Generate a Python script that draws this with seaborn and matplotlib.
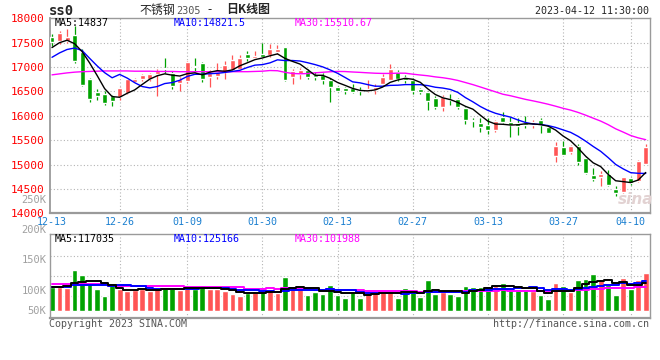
import matplotlib
matplotlib.use("Agg")
import matplotlib.pyplot as plt
import numpy as np
import pandas as pd
import seaborn as sns

# daily candles, ss0 (stainless steel 2305), 2022-12-13 .. 2023-04-12
opens = [17620, 17530, 17530, 17650, 17300, 16760, 16480, 16450, 16410, 16380,
         16465, 16700, 16745, 16760, 16850, 16975, 16885, 16675, 16710, 17010,
         17090, 16795, 16810, 16900, 16945, 16965, 17260, 17185, 17260, 17240,
         17310, 17410, 16795, 16865, 16945, 16840, 16830, 16725, 16590, 16570,
         16570, 16535, 16515, 16535, 16660, 16740, 16900, 16795, 16740, 16555,
         16485, 16375, 16180, 16350, 16350, 16170, 15920, 15850, 15815, 15715,
         15980, 15878, 15857, 15845, 15810, 15912, 15776, 15184, 15368, 15266,
         15388, 15130, 14790, 14735, 14810, 14497, 14430, 14715, 14654, 15014]
highs = [17680, 17740, 17790, 17850, 17370, 16780, 16540, 16500, 16430, 16600,
         16780, 16770, 16850, 16870, 16960, 17180, 16920, 16800, 17130, 17180,
         17100, 16930, 17090, 17115, 17240, 17240, 17320, 17320, 17500, 17465,
         17445, 17420, 16965, 16985, 16965, 16895, 16875, 16775, 16620, 16600,
         16650, 16600, 16740, 16650, 16855, 17070, 16945, 16840, 16775, 16570,
         16500, 16400, 16420, 16445, 16375, 16190, 15965, 15965, 15950, 15920,
         16080, 15980, 15945, 15990, 15912, 15945, 15810, 15456, 15490, 15402,
         15415, 15164, 14926, 14871, 14892, 14565, 14749, 14749, 15090, 15415]
lows = [17440, 17480, 17500, 17090, 16610, 16290, 16330, 16220, 16210, 16330,
        16450, 16680, 16720, 16720, 16410, 16880, 16540, 16500, 16670, 16890,
        16700, 16590, 16760, 16760, 16930, 16950, 17120, 17170, 17200, 17205,
        17275, 16720, 16660, 16760, 16760, 16725, 16660, 16280, 16490, 16445,
        16465, 16420, 16485, 16445, 16640, 16740, 16720, 16670, 16450, 16450,
        16125, 16145, 16100, 16225, 16145, 15835, 15760, 15665, 15620, 15665,
        15845, 15572, 15605, 15740, 15740, 15640, 15640, 15062, 15190, 15218,
        14994, 14810, 14654, 14565, 14565, 14361, 14409, 14586, 14633, 15014]
closes = [17510, 17690, 17620, 17130, 16640, 16350, 16400, 16270, 16310, 16570,
          16760, 16745, 16830, 16850, 16920, 16960, 16605, 16745, 17095, 17000,
          16760, 16875, 16900, 17035, 17135, 17185, 17185, 17220, 17205, 17360,
          17380, 16725, 16910, 16930, 16795, 16795, 16725, 16600, 16500, 16500,
          16485, 16515, 16555, 16600, 16795, 16965, 16760, 16725, 16500, 16485,
          16295, 16180, 16385, 16315, 16190, 15905, 15885, 15760, 15710, 15895,
          15878, 15810, 15790, 15810, 15878, 15810, 15653, 15388, 15198, 15388,
          15062, 14824, 14708, 14810, 14586, 14409, 14735, 14613, 15070, 15360]
# volume, thousands of lots
volumes = [99, 99, 95, 171, 150, 111, 92, 63, 117, 90,
           84, 88, 90, 84, 97, 99, 97, 88, 104, 92,
           109, 92, 90, 84, 70, 63, 74, 84, 84, 84,
           74, 143, 100, 92, 67, 81, 71, 109, 67, 56,
           78, 56, 78, 78, 78, 78, 56, 97, 84, 60,
           130, 70, 78, 70, 64, 104, 100, 100, 104, 104,
           117, 90, 90, 90, 84, 67, 50, 117, 104, 81,
           130, 134, 155, 130, 109, 67, 138, 90, 130, 160]

# moving average values before enough days exist in the window
ma5_head = [17400, 17500, 17550, 17480]
ma10_head = [17200, 17290, 17360, 17390, 17340, 17180, 17025, 16885, 16780]
ma30_head = [16840, 16860, 16880, 16895, 16905, 16910, 16915, 16920, 16920, 16920,
             16920, 16915, 16915, 16915, 16910, 16910, 16910, 16905, 16905, 16905,
             16905, 16905, 16905, 16905, 16905, 16905, 16905, 16910, 16915]
vma5_head = [100, 102, 104, 116]
vma10_head = [99, 99, 101, 108, 108, 108, 108, 108, 106]
vma30_head = [111, 111, 111, 111, 111, 111, 111, 111, 104, 104,
              104, 104, 104, 104, 104, 104, 104, 104, 99, 99,
              99, 99, 99, 99, 99, 99, 93, 93, 93]

tick_pos = [0, 9, 18, 28, 38, 48, 58, 68, 77]
tick_labels = ['12-13', '12-26', '01-09', '01-30', '02-13', '02-27', '03-13', '03-27', '04-10']
price_ticks = [14000, 14500, 15000, 15500, 16000, 16500, 17000, 17500, 18000]
vol_labels = ['250K', '200K', '150K', '100K', '50K']

RED = '#ff5555'
GREEN = '#00a200'
GRID = '#b4b4b4'
EDGE = '#9a9a9a'


def moving_avg(values, n, head):
    s = pd.Series(values, dtype=float).rolling(n).mean()
    s.iloc[:n - 1] = head
    return s


sns.set_style("white")
plt.rcParams['font.family'] = ['DejaVu Sans Mono', 'Noto Sans CJK SC']

W, H = 660, 360


def px(x, y):
    return x / W, 1 - y / H


fig = plt.figure(figsize=(6.6, 3.6), dpi=100)
ax = fig.add_axes([50.5 / W, (H - 213.3) / H, 599 / W, 195 / H])
axv = fig.add_axes([50.5 / W, (H - 318) / H, 599 / W, 83.7 / H])

df = pd.DataFrame({'o': opens, 'h': highs, 'l': lows, 'c': closes, 'v': np.array(volumes) * 1000})
df['idx'] = np.arange(len(df))
df['dir'] = np.where(df['c'] >= df['o'], 'up', 'down')
cols = [RED if d == 'up' else GREEN for d in df['dir']]

# price panel
for y in price_ticks[1:-1]:
    ax.axhline(y, color=GRID, lw=0.8, ls=(0, (1, 2)), zorder=0)
for x in tick_pos[1:]:
    ax.axvline(x, color=GRID, lw=0.8, ls=(0, (1, 2)), zorder=0)

ax.vlines(df['idx'], df['l'], df['h'], colors=cols, lw=0.9, zorder=2)
body = (df['c'] - df['o']).abs().clip(lower=18)
ax.bar(df['idx'], body, bottom=df[['o', 'c']].min(axis=1), width=0.66, color=cols, zorder=3)

ma5 = moving_avg(closes, 5, ma5_head)
ma10 = moving_avg(closes, 10, ma10_head)
ma30 = moving_avg(closes, 30, ma30_head)
sns.lineplot(x=df['idx'], y=ma30, color='#ff00ff', lw=1, ax=ax, zorder=4)
sns.lineplot(x=df['idx'], y=ma10, color='#0000ff', lw=1, ax=ax, zorder=4)
sns.lineplot(x=df['idx'], y=ma5, color='black', lw=1, ax=ax, zorder=5)

ax.set_xlim(-0.2, 79.5)
ax.set_ylim(14000, 18000)
ax.set_yticks(price_ticks)
ax.set_yticklabels([str(p) for p in price_ticks])
ax.set_xticks(tick_pos)
ax.set_xticklabels(tick_labels)
ax.tick_params(axis='y', length=0, pad=4, labelcolor='#ff0000', labelsize=8)
ax.tick_params(axis='x', length=0, pad=2.5, labelcolor='#1a7fd0', labelsize=7.2)
ax.set_xlabel('')
ax.set_ylabel('')
for s in ax.spines.values():
    s.set_color(EDGE)
    s.set_linewidth(1)
ax.spines['bottom'].set_linewidth(1.6)
ax.spines['left'].set_linewidth(1.3)

# volume panel
sns.barplot(data=df, x='idx', y='v', hue='dir', palette={'up': RED, 'down': GREEN},
            dodge=False, native_scale=True, width=0.76, saturation=1,
            errorbar=None, legend=False, ax=axv, zorder=2)
vma5 = moving_avg(df['v'], 5, np.array(vma5_head) * 1000)
vma10 = moving_avg(df['v'], 10, np.array(vma10_head) * 1000)
vma30 = moving_avg(df['v'], 30, np.array(vma30_head) * 1000)
sns.lineplot(x=df['idx'], y=vma30, color='#ff00ff', lw=1.4, drawstyle='steps-mid', ax=axv, zorder=4)
sns.lineplot(x=df['idx'], y=vma10, color='#0000ff', lw=1.4, drawstyle='steps-mid', ax=axv, zorder=4)
sns.lineplot(x=df['idx'], y=vma5, color='black', lw=1.4, drawstyle='steps-mid', ax=axv, zorder=5)

for f in [0.744, 0.505, 0.267]:
    axv.plot([0, 1], [f, f], transform=axv.transAxes, color=GRID, lw=0.8, ls=(0, (1, 2)), zorder=0)
for x in tick_pos[1:]:
    axv.axvline(x, color=GRID, lw=0.8, ls=(0, (1, 2)), zorder=0)
axv.set_xlim(-0.2, 79.5)
axv.set_ylim(-29300, 320600)
axv.set_xticks([])
axv.set_yticks([])
axv.set_xlabel('')
axv.set_ylabel('')
for s in axv.spines.values():
    s.set_color(EDGE)
    s.set_linewidth(1)
axv.spines['bottom'].set_linewidth(1.6)

# texts
mono = 7.2
fig.text(*px(49, 11), 'ss0', fontsize=10, fontweight='bold', va='center', ha='left')
cjk = ['Noto Sans CJK SC', 'DejaVu Sans']
fig.text(*px(139, 10), '不锈钢', fontsize=8.6, family=cjk, va='center', ha='left')
fig.text(*px(176, 11), '2305', fontsize=7.4, color='#555555', va='center', ha='left')
fig.text(*px(207, 10), '-', fontsize=8.6, family=cjk, va='center', ha='left')
fig.text(*px(226, 10), '日K线图', fontsize=8.6, family=cjk, fontweight='bold', va='center', ha='left')
fig.text(*px(649, 11.5), '2023-04-12 11:30:00', fontsize=mono, va='center', ha='right')

fig.text(*px(55, 23.5), 'MA5:14837', fontsize=mono, color='black', va='center')
fig.text(*px(174, 23.5), 'MA10:14821.5', fontsize=mono, color='#0000ff', va='center')
fig.text(*px(295, 23.5), 'MA30:15510.67', fontsize=mono, color='#ff00ff', va='center')

fig.text(*px(55, 239), 'MA5:117035', fontsize=mono, color='black', va='center')
fig.text(*px(174, 239), 'MA10:125166', fontsize=mono, color='#0000ff', va='center')
fig.text(*px(295, 239), 'MA30:101988', fontsize=mono, color='#ff00ff', va='center')

for lab, yy in zip(vol_labels, [200, 230, 260, 291, 311]):
    fig.text(*px(46.5, yy), lab, fontsize=7.5, color='#a0a0a0', va='center', ha='right')

fig.text(*px(49, 324), 'Copyright 2023 SINA.COM', fontsize=mono, color='#555555', va='center', ha='left')
fig.text(*px(649, 324), 'http://finance.sina.com.cn', fontsize=mono, color='#555555', va='center', ha='right')

fig.text(*px(636, 199), 'sina', fontsize=11, fontweight='bold', style='italic',
         family=['DejaVu Sans'], color='#e2d2d2', va='center', ha='center', zorder=1)

fig.savefig('out.png', dpi=100)
